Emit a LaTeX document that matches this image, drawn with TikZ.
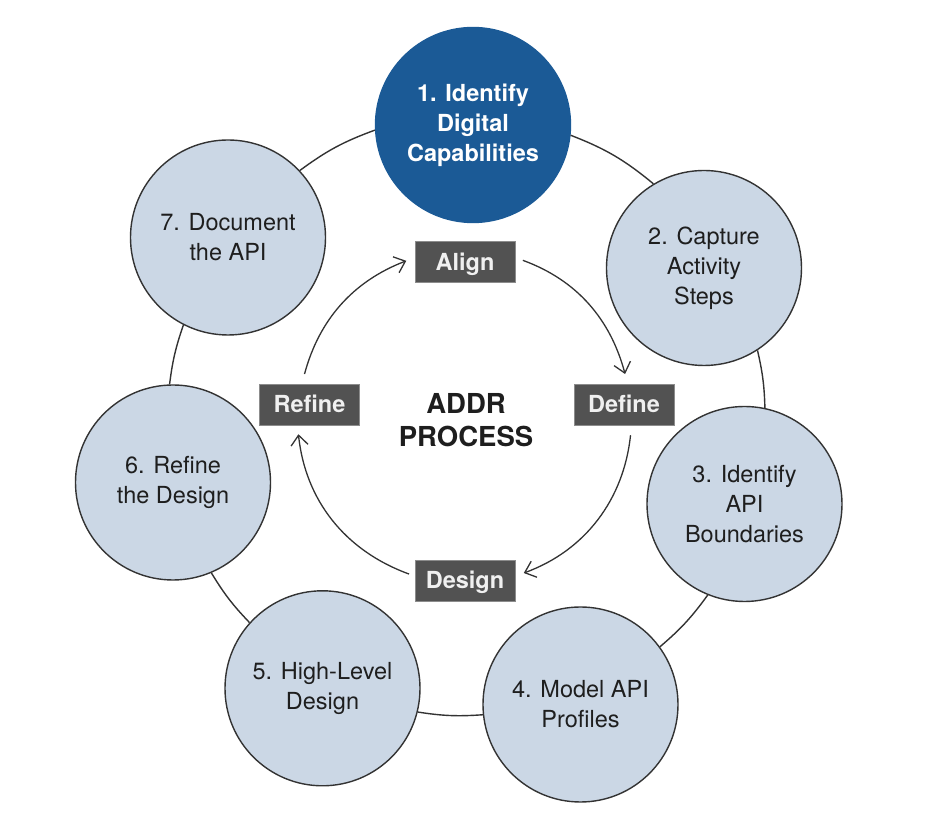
\documentclass[tikz,border=0pt]{standalone}
\usepackage{fontspec}
\setmainfont{TeX Gyre Heros}
\usetikzlibrary{arrows.meta}
\definecolor{capblue}{HTML}{1B5A96}
\definecolor{stagefill}{HTML}{CBD7E5}
\definecolor{ringgray}{HTML}{333333}
\definecolor{inkgray}{HTML}{1E1E1E}
\definecolor{phasegray}{HTML}{525252}
\definecolor{phaseedge}{HTML}{8C8C8C}

\begin{document}
\begin{tikzpicture}[
    x=1pt, y=1pt,
    >={Straight Barb[length=10pt,width=17pt]},
    every node/.style={align=center, text=inkgray},
    stage/.style={circle, draw=ringgray, line width=1.4pt, fill=stagefill,
      minimum size=195pt, inner sep=0pt, font=\fontsize{23.5}{30}\selectfont},
    keystage/.style={stage, draw=capblue, fill=capblue, text=white,
      font=\bfseries\fontsize{23.5}{30}\selectfont},
    phase/.style={draw=phaseedge, line width=0.6pt, fill=phasegray,
      minimum width=100pt, minimum height=41pt, inner sep=0pt,
      text height=16.9pt, text depth=0pt, text=white!94!black,
      font=\bfseries\fontsize{23.5}{28}\selectfont},
    ring/.style={every edge/.style={draw=ringgray, line width=1.4pt}},
    flow/.style={every edge/.style={draw=ringgray, line width=1.3pt, ->}}]
  \useasboundingbox (0,0) rectangle (930,822);
  \node[keystage] (s1) at (473,697) {1. Identify\\Digital\\Capabilities};
  \node[stage] (s2) at (704,554) {2. Capture\\Activity\\Steps};
  \node[stage] (s3) at (744.5,318) {3. Identify\\API\\Boundaries};
  \node[stage] (s4) at (580.5,117.5) {4. Model API\\Profiles};
  \node[stage] (s5) at (322.5,133.7) {5. High-Level\\Design};
  \node[stage] (s6) at (173,339.5) {6. Refine\\the Design};
  \node[stage] (s7) at (228,584.5) {7. Document\\the API};
  \node[font=\bfseries\fontsize{27.5}{33.5}\selectfont] (addr) at (466,402) {ADDR\\PROCESS};
  \node[phase] (align) at (465,560) {Align};
  \node[phase] (define) at (624,417.5) {Define};
  \node[phase] (design) at (465,241.5) {Design};
  \node[phase] (refine) at (309.5,417.5) {Refine};
  % outer ring, one piece between each pair of stages
  \path[ring]
      (s1.-6.6) edge [bend left=9.2] (s2.121.7)
      (s2.-57.3) edge [bend left=5.7] (s3.78.2)
      (s3.-112.6) edge [bend left=6.8] (s4.36.8)
      (s4.186.8) edge [bend left=6.4] (s5.-14.3)
      (s5.138.4) edge [bend left=6.2] (s6.-67.4)
      (s6.92.2) edge [bend left=6] (s7.-117.7)
      (s7.43.3) edge [bend left=8.2] (s1.183.8);
  \path[flow]
      (align.5) edge [out=-20, in=105, shorten <=8pt, shorten >=10pt] (define.80)
      (define.-70) edge [out=-96, in=20, shorten <=10pt, shorten >=9pt] (design.5)
      (design.175) edge [out=160, in=-84, shorten <=6pt, shorten >=9pt] (refine.-120)
      (refine.110) edge [out=75, in=-159, shorten <=10pt, shorten >=9pt] (align.175);
\end{tikzpicture}
\end{document}
